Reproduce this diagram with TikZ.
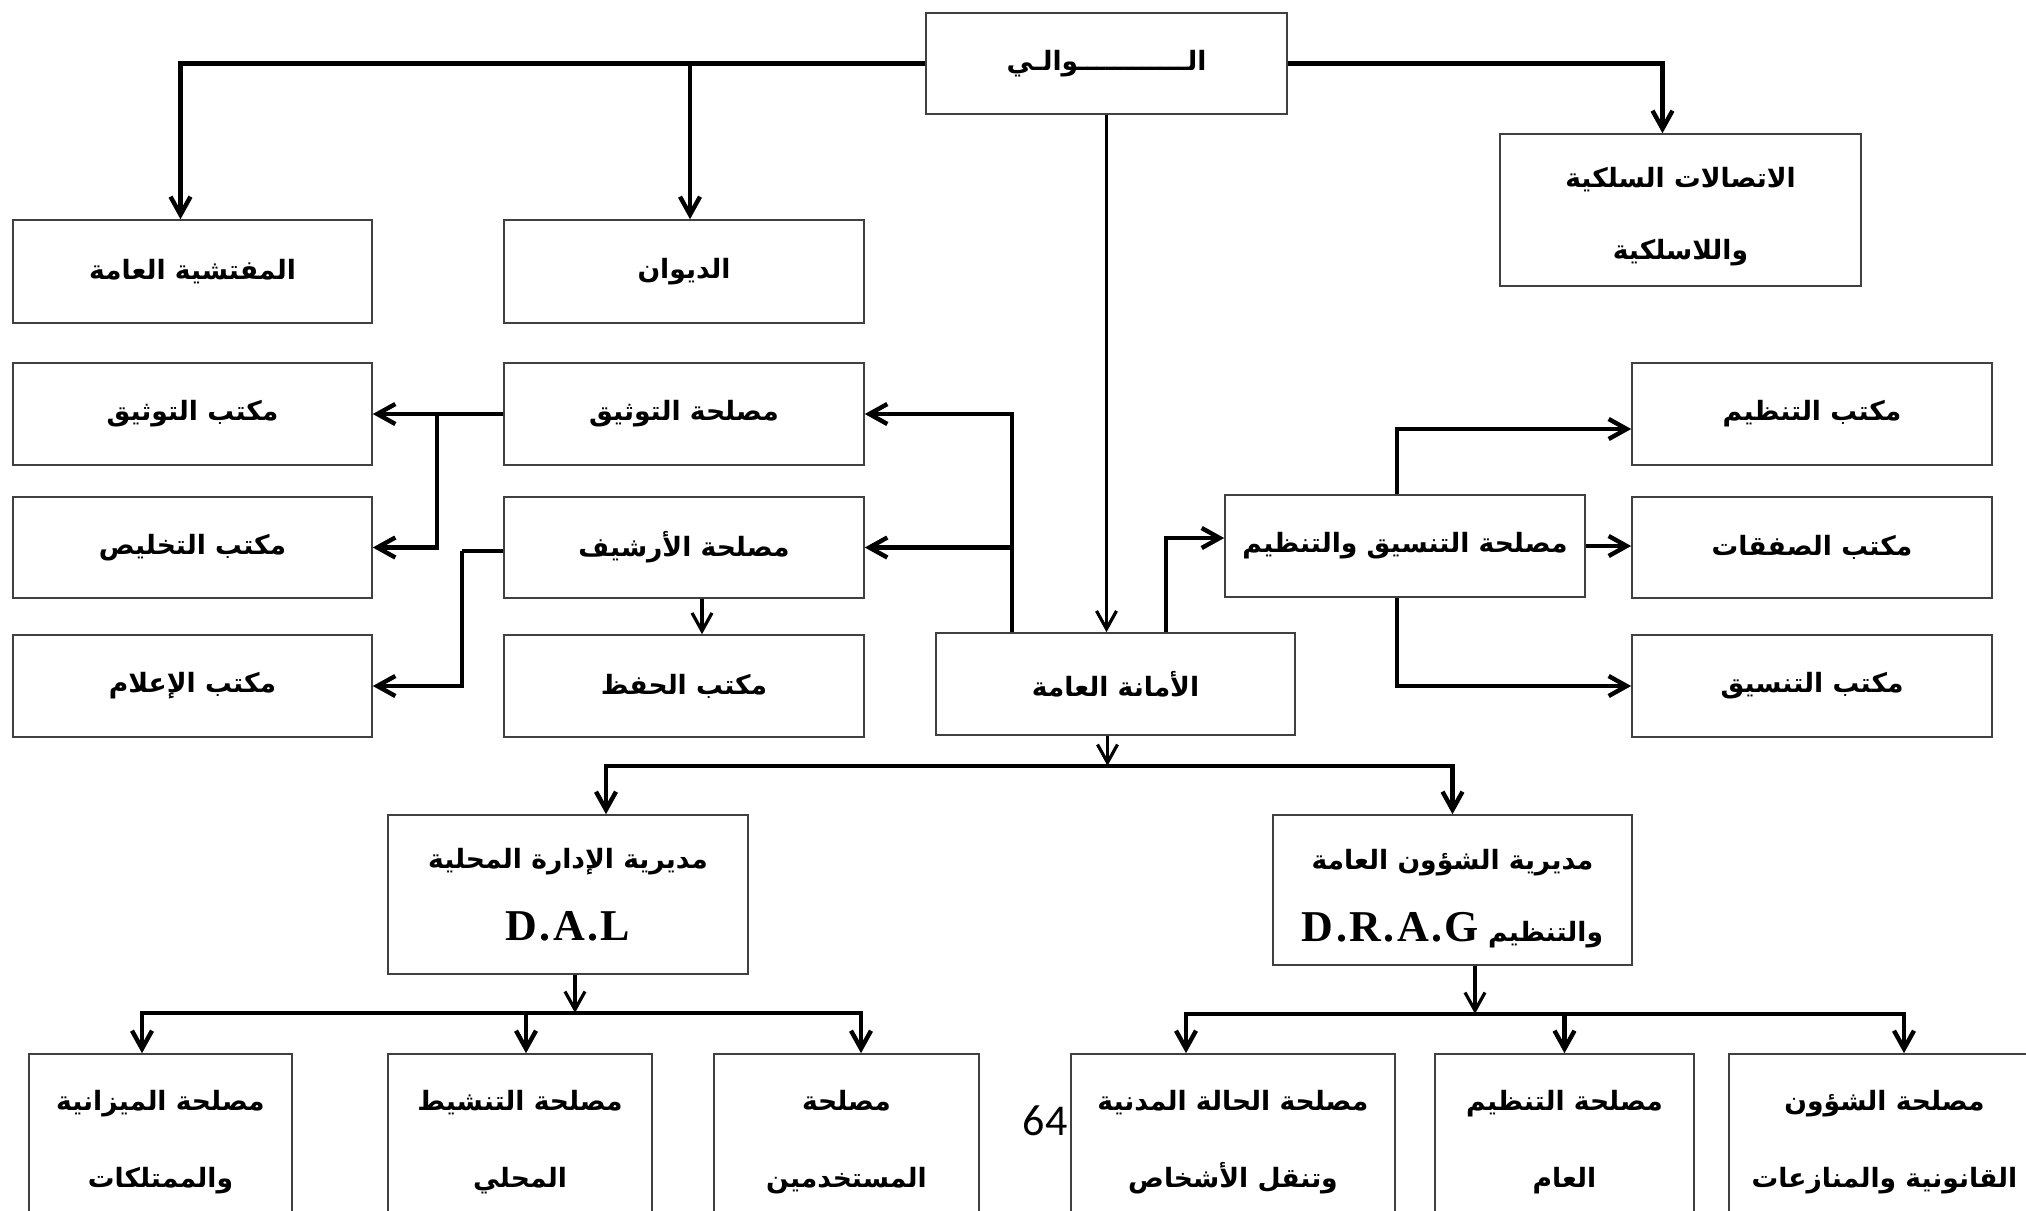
\documentclass[tikz,border=0pt]{standalone}
\usepackage{fontspec}
\usetikzlibrary{arrows.meta}
\TeXXeTstate=1
\newfontfamily\arabicfont[Script=Arabic]{DejaVu Sans}
\newfontfamily\latinser{Liberation Serif}
\newfontfamily\numfont{Carlito}
\newcommand\AR[1]{\beginR #1\endR}
\newcommand\UP[2]{\raisebox{0pt}[\dimexpr\height+#1\relax]{#2}}
\newcommand\LT[1]{{\latinser\bfseries\fontsize{22}{26}\selectfont #1}}
\begin{document}
\begin{tikzpicture}[x=0.5pt,y=-0.5pt,
 bx/.style={draw=black!75, line width=0.8pt, fill=white, inner sep=0pt, align=center,
   font=\arabicfont\bfseries\fontsize{13.3}{36}\selectfont},
 bxb/.style={bx, font=\arabicfont\bfseries\fontsize{13.3}{38.5}\selectfont},
 wh/.style 2 args={minimum width=#1*0.5pt, minimum height=#2*0.5pt},
 conn/.style={line width=2.2pt, -{Straight Barb[length=9pt,width=10pt]}},
 thinconn/.style={line width=1.6pt, -{Straight Barb[length=9pt,width=10pt]}},
 plain/.style={line width=2.2pt}
]
\useasboundingbox (0,0) rectangle (2026,1211);
\fill[white] (0,0) rectangle (2026,1211);

% top level
\node[bx, wh={361}{101}] (wali) at (1106.5,63.5) {\AR{الــــــــــــوالـي}};
\node[bx, wh={361}{152}] (itt) at (1680.5,210) {\UP{7pt}{\AR{الاتصالات السلكية}}\\\AR{واللاسلكية}};
\node[bx, wh={359}{103}] (mufat) at (192.5,271.5) {\AR{المفتشية العامة}};
\node[bx, wh={360}{103}] (diwan) at (684,271.5) {\AR{الديوان}};

% left columns
\node[bx, wh={359}{102}] (mkT) at (192.5,414) {\AR{مكتب التوثيق}};
\node[bx, wh={360}{102}] (msT) at (684,414) {\AR{مصلحة التوثيق}};
\node[bx, wh={359}{101}] (mkK) at (192.5,547.5) {\AR{مكتب التخليص}};
\node[bx, wh={360}{101}] (msA) at (684,547.5) {\AR{مصلحة الأرشيف}};
\node[bx, wh={359}{102}] (mkI) at (192.5,686) {\AR{مكتب الإعلام}};
\node[bx, wh={360}{102}] (mkH) at (684,686) {\AR{مكتب الحفظ}};

% centre and right
\node[bx, wh={359}{102}] (amana) at (1115.5,684) {\AR{الأمانة العامة}};
\node[bx, wh={360}{102}] (tns) at (1405,546) {\AR{مصلحة التنسيق والتنظيم}};
\node[bx, wh={360}{102}] (mkTz) at (1812,414) {\AR{مكتب التنظيم}};
\node[bx, wh={360}{101}] (mkS) at (1812,547.5) {\AR{مكتب الصفقات}};
\node[bx, wh={360}{102}] (mkTn) at (1812,686) {\AR{مكتب التنسيق}};

% directorates
\node[bx, wh={360}{159}] (dal) at (568,894.5) {\AR{مديرية الإدارة المحلية}\\\LT{D\kern1.2pt.\kern1.2pt A\kern1.2pt.\kern1.2pt L}};
\node[bx, wh={359}{150}] (drag) at (1452.5,890) {\UP{9pt}{\AR{مديرية الشؤون العامة}}\\\AR{والتنظيم \LT{\beginL D\kern1.2pt.\kern1.2pt R\kern1.2pt.\kern1.2pt A\kern1.2pt.\kern1.2pt G\endL}}};

% bottom services
\node[bxb, wh={263}{176}] (miz) at (160.5,1142) {\AR{مصلحة الميزانية}\\\AR{والممتلكات}};
\node[bxb, wh={264}{176}] (tansh) at (520,1142) {\AR{مصلحة التنشيط}\\\AR{المحلي}};
\node[bxb, wh={265}{176}] (must) at (846.5,1142) {\AR{مصلحة}\\\AR{المستخدمين}};
\node[bxb, wh={324}{176}] (madan) at (1233,1142) {\AR{مصلحة الحالة المدنية}\\\AR{وتنقل الأشخاص}};
\node[bxb, wh={259}{176}] (tanzAm) at (1564.5,1142) {\AR{مصلحة التنظيم}\\\AR{العام}};
\node[bxb, wh={311}{176}] (shuun) at (1884.5,1142) {\AR{مصلحة الشؤون}\\\AR{القانونية والمنازعات}};

\node[font=\numfont\fontsize{22}{22}\selectfont, inner sep=0pt] (pg) at (1045,1121) {64};

% connectors from the wali
\coordinate (mufatIn) at ([xshift=-6pt]mufat.north);
\coordinate (diwanIn) at ([xshift=3pt]diwan.north);
\coordinate (ittIn) at ([xshift=-9pt]itt.north);
\draw[conn] (wali.west) -| (mufatIn);
\draw[conn] (wali.west -| diwanIn) -- (diwanIn);
\draw[conn] (wali.east) -| (ittIn);
\draw[thinconn] (wali.south) -- (wali.south |- amana.north);

% from the amana upwards
\coordinate (amL) at ([xshift=-51.75pt]amana.north);
\draw[conn] (amL) |- (msT.east);
\draw[conn] (amL |- msA.east) -- (msA.east);
\coordinate (amR) at ([xshift=25.25pt]amana.north);
\draw[conn] (amR) |- ([yshift=4pt]tns.west);

% coordination service
\coordinate (tnsTop) at ([xshift=-4pt]tns.north);
\coordinate (tnsBot) at ([xshift=-4pt]tns.south);
\draw[conn] (tnsTop) |- ([yshift=-7.5pt]mkTz.west);
\draw[conn] (tns.east) -- (tns.east -| mkS.west);
\draw[conn] (tnsBot) |- (mkTn.west);

% documentation and archive
\draw[conn] (msT.west) -- (mkT.east);
\coordinate (tw) at ([xshift=32pt]mkT.east);
\draw[conn] (tw) |- (mkK.east);
\coordinate (awS) at ([yshift=-1.75pt]msA.west);
\coordinate (aw) at ([xshift=-20.5pt]awS);
\draw[plain] (awS) -- (aw);
\draw[conn] (aw) |- (mkI.east);
\draw[thinconn] ([xshift=9pt]msA.south) -- ([xshift=9pt]mkH.north);

% amana to directorates
\coordinate (amS) at ([xshift=-4pt]amana.south);
\coordinate (bus1) at ([yshift=-15pt]amS);
\draw[thinconn] (amS) -- (bus1);
\coordinate (dalIn) at ([xshift=19pt]dal.north);
\draw[conn] (bus1) -| (dalIn);
\draw[conn] (bus1) -| (drag.north);

% DAL services
\coordinate (dalS) at ([xshift=3.5pt]dal.south);
\coordinate (bus2) at ([yshift=-19pt]dalS);
\draw[thinconn] (dalS) -- (bus2);
\coordinate (mizIn) at ([xshift=-9.25pt]miz.north);
\coordinate (tanshIn) at ([xshift=3pt]tansh.north);
\coordinate (mustIn) at ([xshift=7.25pt]must.north);
\draw[conn] (bus2) -| (mizIn);
\draw[conn] (bus2) -| (mustIn);
\draw[conn] (bus2 -| tanshIn) -- (tanshIn);

% DRAG services
\coordinate (dragS) at ([xshift=11.25pt]drag.south);
\coordinate (bus3) at ([yshift=-24pt]dragS);
\draw[thinconn] (dragS) -- (bus3);
\coordinate (madanIn) at ([xshift=-23.5pt]madan.north);
\coordinate (shuunIn) at ([xshift=9.75pt]shuun.north);
\draw[conn] (bus3) -| (madanIn);
\draw[conn] (bus3) -| (shuunIn);
\draw[conn] (bus3 -| tanzAm.north) -- (tanzAm.north);
\end{tikzpicture}
\end{document}
